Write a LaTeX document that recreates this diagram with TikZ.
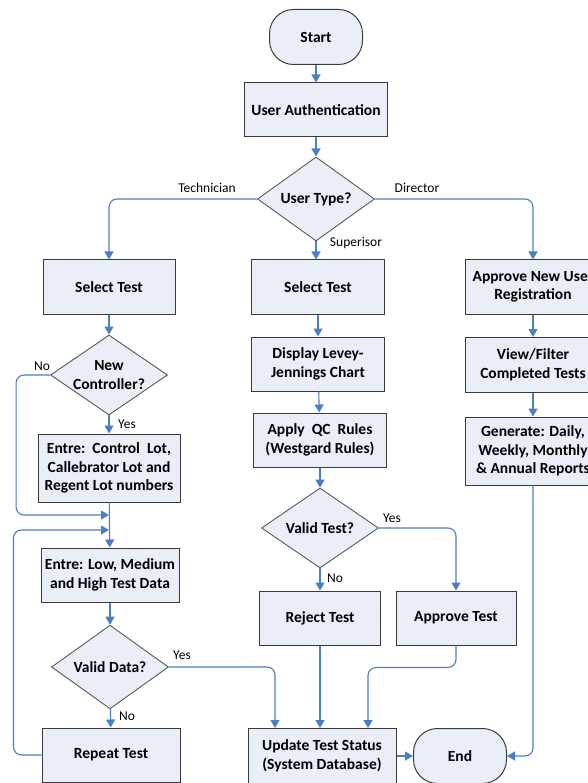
\documentclass[tikz,border=0pt]{standalone}
\usepackage{fontspec}
\setmainfont{Carlito}
\usetikzlibrary{shapes.geometric,arrows.meta}
\definecolor{boxfill}{HTML}{E9EEF7}
\definecolor{flowblue}{HTML}{4A7EC7}
\definecolor{boxline}{HTML}{3A3A3A}

\begin{document}
\begin{tikzpicture}[x=1pt,y=-1pt,
  box/.style={draw=boxline,fill=boxfill,line width=1pt,align=center,inner sep=2pt,
    font=\bfseries\fontsize{15.5}{18.5}\selectfont},
  term/.style={box,rounded corners=24pt,minimum width=93pt,minimum height=55pt},
  decide/.style={diamond,draw=boxline!85,fill=boxfill,line width=0.9pt,inner sep=0pt,
    minimum width=117pt,minimum height=80pt,align=center,
    font=\bfseries\fontsize{15.5}{18.5}\selectfont},
  flow/.style={draw=flowblue,line width=1.1pt,rounded corners=8pt,-{Triangle[width=9pt,length=8pt]}},
  lbl/.style={font=\fontsize{13.5}{16}\selectfont}]
\useasboundingbox (0,0) rectangle (587,783);

\node[term] (start) at (316,37) {Start};
\node[box,minimum width=143pt,minimum height=54pt] (auth) at (316,110) {User Authentication};
\node[decide] (utype) at (316,199) {User Type?};

%technician column
\node[box,minimum width=132pt,minimum height=54pt] (selL) at (109,287) {Select Test};
\node[decide,label={[align=center,font=\bfseries\fontsize{15.5}{18.5}\selectfont]center:New\\Controller?}] (newc) at (109,375) {};
\node[box,minimum width=142pt,minimum height=68pt] (entre1) at (109,468) {Entre:\ \ Control\ \ Lot,\\Callebrator Lot and\\Regent Lot numbers};
\node[box,minimum width=138pt,minimum height=54pt] (entre2) at (110,575) {Entre: Low, Medium\\and High Test Data};
\node[decide] (vdata) at (110,667) {Valid Data?};
\node[box,minimum width=138pt,minimum height=54pt] (repeat) at (111,755) {Repeat Test};

%superisor column
\node[box,minimum width=133pt,minimum height=54pt] (selM) at (318,287) {Select Test};
\node[box,minimum width=133pt,minimum height=54pt] (display) at (318,364) {Display Levey-\\Jennings Chart};
\node[box,minimum width=133pt,minimum height=54pt] (apply) at (320,440) {Apply\ \ QC\ \ Rules\\(Westgard Rules)};
\node[decide] (vtest) at (320,528) {Valid Test?};
\node[box,minimum width=121pt,minimum height=54pt] (reject) at (320,618) {Reject Test};
\node[box,minimum width=120pt,minimum height=54pt] (approveT) at (456,618) {Approve Test};
\node[box,minimum width=148pt,minimum height=55pt] (update) at (322,756) {Update Test Status\\(System Database)};
\node[term] (end) at (460,756) {End};

%director column
\node[box,minimum width=136pt,minimum height=54pt] (approveU) at (533,287) {Approve New User\\Registration};
\node[box,minimum width=136pt,minimum height=55pt] (viewf) at (533,365) {View/Filter\\Completed Tests};
\node[box,minimum width=136pt,minimum height=68pt] (gen) at (533,451) {Generate: Daily,\\Weekly, Monthly\\\& Annual Reports};

\coordinate (j1) at (109,515);
\coordinate (j2) at (109,530);
\coordinate (u1) at (275,728);
\coordinate (u3) at (368,728);

\draw[flow] (start) -- (auth);
\draw[flow] (auth) -- (utype);
\draw[flow] (utype.west) -| (selL.north);
\draw[flow] (utype.east) -| (approveU.north);
\draw[flow] (utype.south) -- (utype.south |- selM.north);
\node[lbl] (ltech) at (207,188) {Technician};
\node[lbl] (ldir) at (417,188) {Director};
\node[lbl] (lsup) at (356,243) {Superisor};

\draw[flow] (selL) -- (newc);
\draw[flow] (newc) -- (entre1);
\draw[flow] (newc.west) -- ++(-34,0) |- (j1);
\draw[flow] (entre1) -- (entre2);
\draw[flow] (repeat.west) -- ++(-28,0) |- (j2);
\draw[flow] (entre2) -- (vdata);
\draw[flow] (vdata) -- (repeat);
\draw[flow] (vdata.east) -| (u1);
\node[lbl] (lno1) at (42,366) {No};
\node[lbl] (lyes1) at (127,424) {Yes};
\node[lbl] (lyes2) at (182,655) {Yes};
\node[lbl] (lno2) at (127,716) {No};

\draw[flow] (selM) -- (display);
\draw[flow] (display) -- (apply);
\draw[flow] (apply) -- (vtest);
\draw[flow] (vtest.east) -| (approveT.north);
\draw[flow] (vtest) -- (reject);
\draw[flow] (reject.south) -- (reject.south |- update.north);
\draw[flow] (approveT.south) -- ++(0,22) -| (u3);
\draw[flow] (update) -- (end);
\node[lbl] (lyes3) at (392,518) {Yes};
\node[lbl] (lno3) at (335,578) {No};

\draw[flow] (approveU) -- (viewf);
\draw[flow] (viewf) -- (gen);
\draw[flow] (gen.south) |- (end.east);
\end{tikzpicture}
\end{document}
